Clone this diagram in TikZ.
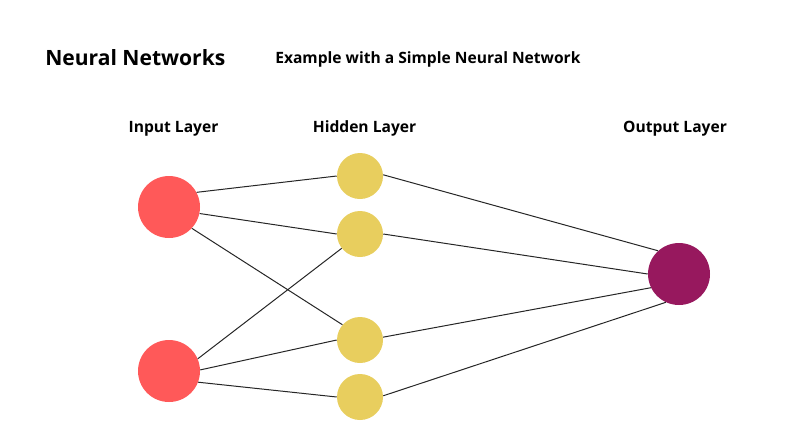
\documentclass[tikz,border=0pt]{standalone}
\usepackage{fontspec}
\setmainfont{Open Sans}
\usetikzlibrary{positioning}
\definecolor{inred}{RGB}{255,89,89}
\definecolor{hidyel}{RGB}{232,206,94}
\definecolor{outpur}{RGB}{151,24,94}

\begin{document}
\begin{tikzpicture}[x=0.75pt,y=-0.75pt,
  inp/.style={circle,fill=inred,minimum size=46.5pt,inner sep=0pt},
  hid/.style={circle,fill=hidyel,minimum size=34.5pt,inner sep=0pt},
  outp/.style={circle,fill=outpur,minimum size=46.5pt,inner sep=0pt},
  lab/.style={font=\bfseries\fontsize{11.7}{14}\selectfont},
  wire/.style={line width=0.75pt,black!85}]
\useasboundingbox (0,0) rectangle (800,444);

\node[anchor=west,inner sep=0pt,font=\bfseries\fontsize{15.8}{19}\selectfont] (title) at (45,58) {Neural Networks};
\node[anchor=west,inner sep=0pt,lab] (sub) at (275,59) {Example with a Simple Neural Network};

\node[lab] (Lin) at (173.5,128.5) {Input Layer};
\node[lab] (Lhid) at (364.5,128.5) {Hidden Layer};
\node[lab] (Lout) at (675,128.5) {Output Layer};

\node[inp] (i1) at (169,207) {};
\node[inp] (i2) at (169,371) {};

\node[hid] (h1) at (360,176) {};
\node[hid] (h2) at (360,234) {};
\node[hid] (h3) at (360,340) {};
\node[hid] (h4) at (360,397) {};

\node[outp] (o) at (679,274) {};

% 入力層 -> 隠れ層
\draw[wire] (i1.28) -- (h1.180);
\draw[wire] (i1.-12) -- (h2.180);
\draw[wire] (i1.-43) -- (h3.139);
\draw[wire] (i2.23) -- (h2.218);
\draw[wire] (i2.2) -- (h3.180);
\draw[wire] (i2.-21) -- (h4.180);

% 隠れ層 -> 出力層
\draw[wire] (h1.3) -- (o.132);
\draw[wire] (h2.0) -- (o.180);
\draw[wire] (h3.7) -- (o.206);
\draw[wire] (h4.3) -- (o.245);
\end{tikzpicture}
\end{document}
